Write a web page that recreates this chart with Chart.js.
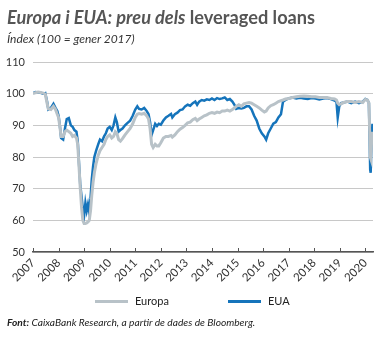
<!DOCTYPE html>
<html>
<head>
<meta charset="utf-8">
<script src="https://cdn.jsdelivr.net/npm/chart.js@4.4.1/dist/chart.umd.min.js"></script>
<style>
  html, body { margin: 0; padding: 0; background: #fff; }
  #wrap { position: relative; width: 383px; height: 338px; overflow: hidden; font-family: Lato, "Open Sans", sans-serif; }
  #chart { position: absolute; left: 0; top: 0; }
  .title { position: absolute; left: 7px; top: 6px; font-size: 18.2px; font-weight: bold; color: #555; white-space: nowrap; }
  .title i { font-style: italic; }
  .sub { position: absolute; left: 7px; top: 31px; font-size: 12px; font-style: italic; color: #333; white-space: nowrap; }
  .legend { position: absolute; top: 294px; font-size: 11px; color: #222; white-space: nowrap; }
  .legend span.sw { display: inline-block; width: 33px; height: 3px; vertical-align: middle; margin-right: 7px; position: relative; top: -1px; }
  .src { position: absolute; left: 7px; top: 316px; font-size: 10.2px; font-style: italic; color: #222; white-space: nowrap; }
</style>
</head>
<body>
<div id="wrap">
  <canvas id="chart" width="383" height="338"></canvas>
  <div class="title"><i>Europa i EUA: preu dels</i> leveraged loans</div>
  <div class="sub">Índex (100 = gener 2017)</div>
  <div class="legend" style="left:95px"><span class="sw" style="background:#b8c2c8"></span>Europa</div>
  <div class="legend" style="left:228px"><span class="sw" style="background:#1574bb"></span>EUA</div>
  <div class="src"><b>Font:</b> CaixaBank Research, a partir de dades de Bloomberg.</div>
</div>
<script>
const seriesNames = ["Europa", "EUA"];
const yearTicks = [2007, 2008, 2009, 2010, 2011, 2012, 2013, 2014, 2015, 2016, 2017, 2018, 2019, 2020];
const yTicks = [50, 60, 70, 80, 90, 100, 110];

const dates = [
  2007.00, 2007.10, 2007.20, 2007.30, 2007.40, 2007.48, 2007.55, 2007.60, 2007.70, 2007.80,
  2007.88, 2007.95, 2008.00, 2008.05, 2008.10, 2008.18, 2008.25, 2008.32, 2008.40, 2008.48,
  2008.55, 2008.62, 2008.70, 2008.75, 2008.80, 2008.85, 2008.90, 2008.95, 2009.00, 2009.05,
  2009.10, 2009.15, 2009.20, 2009.25, 2009.30, 2009.35, 2009.40, 2009.47, 2009.55, 2009.62,
  2009.70, 2009.78, 2009.85, 2009.92, 2010.00, 2010.08, 2010.15, 2010.22, 2010.28, 2010.35,
  2010.42, 2010.50, 2010.60, 2010.70, 2010.80, 2010.90, 2011.00, 2011.08, 2011.15, 2011.25,
  2011.35, 2011.45, 2011.52, 2011.58, 2011.64, 2011.70, 2011.78, 2011.85, 2011.92, 2012.00,
  2012.10, 2012.20, 2012.30, 2012.40, 2012.45, 2012.55, 2012.65, 2012.75, 2012.85, 2012.95,
  2013.05, 2013.15, 2013.25, 2013.35, 2013.42, 2013.50, 2013.60, 2013.70, 2013.80, 2013.90,
  2014.00, 2014.10, 2014.20, 2014.30, 2014.40, 2014.50, 2014.60, 2014.70, 2014.80, 2014.88,
  2014.95, 2015.05, 2015.15, 2015.25, 2015.35, 2015.45, 2015.55, 2015.65, 2015.75, 2015.85,
  2015.95, 2016.05, 2016.12, 2016.20, 2016.30, 2016.40, 2016.50, 2016.60, 2016.70, 2016.78,
  2016.88, 2017.00, 2017.15, 2017.30, 2017.45, 2017.60, 2017.75, 2017.90, 2018.05, 2018.20,
  2018.35, 2018.50, 2018.65, 2018.80, 2018.87, 2018.92, 2018.98, 2019.05, 2019.15, 2019.30,
  2019.45, 2019.60, 2019.75, 2019.90, 2020.00, 2020.08, 2020.14, 2020.17, 2020.19, 2020.21,
  2020.24, 2020.28
];

const eua = [
  100.2, 100.5, 100.4, 100.3, 100.0, 100.2, 97.5, 95.0, 95.5, 96.8,
  95.5, 94.5, 93.0, 90.0, 86.0, 85.5, 89.0, 92.0, 92.3, 90.0,
  89.5, 88.5, 88.0, 85.0, 78.0, 71.0, 67.5, 63.5, 61.5, 65.5,
  63.0, 65.0, 62.5, 67.0, 73.0, 77.0, 80.0, 82.0, 84.0, 85.5,
  85.0, 86.5, 87.5, 89.0, 89.5, 88.5, 90.0, 92.5, 91.0, 88.0,
  88.5, 89.0, 90.0, 90.8, 91.5, 93.0, 95.0, 96.0, 95.2, 95.0,
  95.5, 94.5, 93.5, 91.0, 87.0, 88.5, 90.5, 89.8, 90.5, 90.2,
  91.5, 92.5, 93.0, 93.6, 92.5, 93.5, 94.0, 94.8, 95.0, 96.0,
  96.5, 96.2, 97.0, 97.5, 96.5, 97.5, 98.0, 97.8, 98.2, 98.0,
  98.5, 98.0, 98.6, 98.3, 98.5, 98.8, 98.0, 98.3, 97.5, 96.5,
  95.2, 95.5, 95.3, 95.5, 96.0, 96.0, 95.0, 93.0, 91.5, 89.0,
  87.5, 86.5, 85.5, 87.5, 89.0, 90.5, 91.0, 92.5, 93.5, 97.5,
  98.0, 98.5, 98.8, 98.5, 98.7, 98.5, 98.3, 98.6, 98.5, 98.2,
  98.5, 98.6, 98.3, 97.8, 97.5, 92.5, 96.0, 97.0, 97.2, 97.5,
  97.0, 97.5, 97.0, 97.5, 98.3, 98.0, 97.0, 85.0, 76.0, 75.0,
  85.0, 90.5
];

const europa = [
  100.0, 100.3, 100.5, 100.4, 100.2, 99.8, 97.0, 95.2, 95.0, 96.0,
  95.0, 93.5, 92.5, 89.5, 86.5, 86.5, 88.0, 88.5, 88.0, 87.5,
  86.5, 86.8, 86.0, 84.0, 77.0, 70.0, 64.0, 60.0, 59.0, 59.0,
  59.2, 59.5, 60.0, 63.0, 68.0, 72.0, 75.0, 78.0, 80.5, 82.0,
  83.0, 84.0, 85.5, 86.5, 87.0, 86.0, 86.5, 88.0, 87.5, 85.5,
  85.0, 85.8, 87.0, 88.0, 89.0, 90.5, 92.5, 93.5, 93.7, 93.5,
  93.8, 93.0, 92.0, 89.0, 84.0, 83.0, 84.0, 83.5, 83.5, 84.5,
  86.0, 86.5, 86.5, 86.8, 86.3, 87.0, 88.0, 88.8, 89.3, 90.0,
  90.8, 91.0, 91.8, 92.2, 91.5, 92.0, 92.5, 93.0, 93.3, 93.8,
  94.0, 93.8, 94.2, 94.0, 94.5, 94.5, 94.8, 94.5, 95.0, 95.5,
  96.0, 96.5, 96.0, 96.8, 97.0, 97.2, 97.0, 96.5, 96.0, 95.5,
  94.8, 94.2, 94.5, 95.5, 96.2, 96.5, 97.0, 97.5, 97.8, 98.0,
  98.3, 98.5, 98.8, 99.0, 99.2, 99.3, 99.2, 99.0, 99.0, 98.8,
  98.8, 98.8, 98.5, 98.3, 98.0, 97.0, 96.5, 96.8, 97.2, 97.5,
  97.5, 97.2, 97.5, 97.2, 98.2, 98.0, 97.0, 88.0, 80.0, 79.5,
  84.0, 88.0
];

const toPts = arr => arr.map((v, i) => ({ x: dates[i], y: v }));

const upTicks = {
  id: 'upTicks',
  afterDraw(chart) {
    const xs = chart.scales.x, ctx = chart.ctx, b = chart.chartArea.bottom;
    ctx.save();
    ctx.strokeStyle = '#555';
    ctx.lineWidth = 1;
    xs.ticks.forEach(t => {
      const px = Math.round(xs.getPixelForValue(t.value)) + 0.5;
      ctx.beginPath();
      ctx.moveTo(px, b);
      ctx.lineTo(px, b - 4);
      ctx.stroke();
    });
    ctx.restore();
  }
};

new Chart(document.getElementById('chart'), {
  type: 'line',
  data: {
    datasets: [
      { label: seriesNames[0], data: toPts(europa), borderColor: '#b8c2c8', borderWidth: 3, pointRadius: 0, tension: 0, order: 1 },
      { label: seriesNames[1], data: toPts(eua), borderColor: '#1574bb', borderWidth: 2.5, pointRadius: 0, tension: 0, order: 2 }
    ]
  },
  options: {
    responsive: false,
    animation: false,
    events: [],
    layout: { padding: { top: 62, right: 10, bottom: 0, left: 0 } },
    plugins: { legend: { display: false }, title: { display: false }, tooltip: { enabled: false } },
    scales: {
      x: {
        type: 'linear',
        min: 2007,
        max: 2020.3,
        afterFit: s => { s.height = 86; },
        afterBuildTicks: s => { s.ticks = yearTicks.map(v => ({ value: v })); },
        afterCalculateLabelRotation: s => { s.labelRotation = 45; },
        grid: { drawOnChartArea: false, drawTicks: false },
        border: { display: true, color: '#555', width: 1.5 },
        ticks: {
          autoSkip: false, minRotation: 45, maxRotation: 45.01, padding: 4,
          color: '#333', font: { family: 'Lato', size: 11.5 },
          callback: v => String(v)
        }
      },
      y: {
        min: 50,
        max: 110,
        afterFit: s => { s.width = 33; },
        afterBuildTicks: s => { s.ticks = yTicks.map(v => ({ value: v })); },
        grid: { color: '#c8c8c8', lineWidth: 1, drawTicks: false },
        border: { display: false },
        ticks: { padding: 8, color: '#333', font: { family: 'Lato', size: 11 } }
      }
    }
  },
  plugins: [upTicks]
});
</script>
</body>
</html>
